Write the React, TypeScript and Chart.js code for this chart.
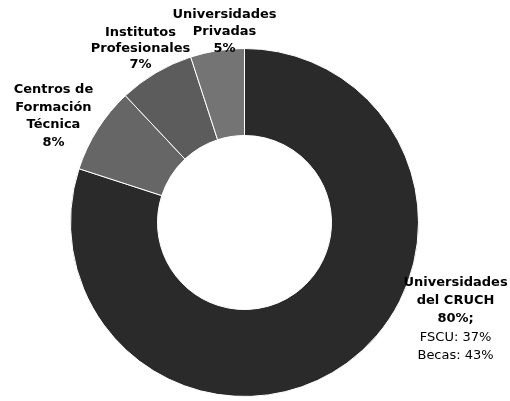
import React, { useEffect, useRef } from "react";
import { Chart, registerables } from "chart.js";

Chart.register(...registerables);

const categories = [
  "Universidades del CRUCH",
  "Centros de Formación Técnica",
  "Institutos Profesionales",
  "Universidades Privadas",
];
const values = [80, 8, 7, 5];
const labelLines = [
  ["Universidades", "del CRUCH", "80%;", "FSCU: 37%", "Becas: 43%"],
  ["Centros de", "Formación", "Técnica", "8%"],
  ["Institutos", "Profesionales", "7%"],
  ["Universidades", "Privadas", "5%"],
];
const boldLineCount = [3, 4, 3, 3];

const colors = ["#2a2a2a", "#666666", "#5c5c5c", "#747474"];
// label anchor (centre x of block, first line centre y) as multiples of outer radius from chart centre
const labelAnchors = [
  [1.213, 0.345],
  [-1.098, -0.764],
  [-0.598, -1.092],
  [-0.115, -1.195],
];
const lineHeights = [18.2, 17.7, 16, 17];

const labelPlugin = {
  id: "sliceLabels",
  afterDatasetsDraw(chart: any) {
    const meta = chart.getDatasetMeta(0);
    const ctx = chart.ctx;
    ctx.save();
    ctx.fillStyle = "#000";
    ctx.textAlign = "center";
    ctx.textBaseline = "middle";
    meta.data.forEach((arc: any, i: number) => {
      const R = arc.outerRadius;
      const cx = arc.x + labelAnchors[i][0] * R;
      const cy = arc.y + labelAnchors[i][1] * R;
      labelLines[i].forEach((line, j) => {
        const bold = j < boldLineCount[i];
        ctx.font = (bold ? "bold " : "") + "13px 'DejaVu Sans', Verdana, sans-serif";
        ctx.fillText(line, cx, cy + j * lineHeights[i]);
      });
    });
    ctx.restore();
  },
};

export default function App() {
  const ref = useRef<HTMLCanvasElement>(null);
  useEffect(() => {
    document.body.style.margin = "0";
    const chart = new Chart(ref.current!, {
      type: "doughnut",
      data: {
        labels: categories,
        datasets: [
          {
            data: values,
            backgroundColor: colors,
            borderColor: "#ffffff",
            borderWidth: 1,
          },
        ],
      },
      options: {
        responsive: false,
        animation: false,
        cutout: "50%",
        layout: { padding: { left: 70, right: 91, top: 48, bottom: 4 } },
        plugins: {
          legend: { display: false },
          tooltip: { enabled: false },
        },
      },
      plugins: [labelPlugin],
    });
    return () => chart.destroy();
  }, []);
  return (
    <div style={{ position: "absolute", left: 0, top: 0, width: 510, height: 401, background: "#fff" }}>
      <canvas ref={ref} width={510} height={401} />
    </div>
  );
}
